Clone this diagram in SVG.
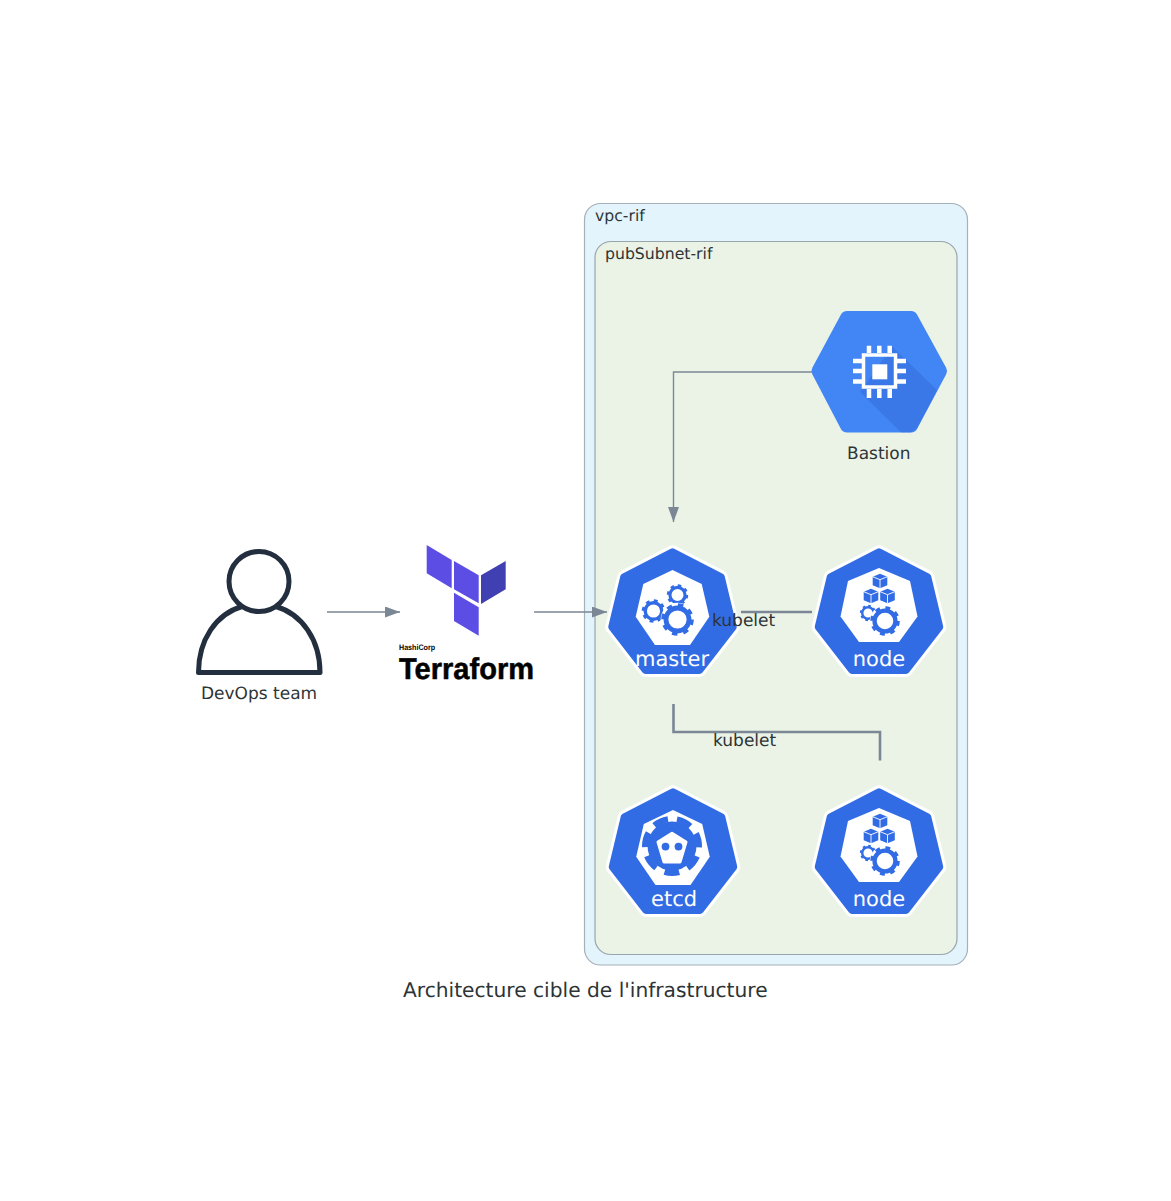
<svg xmlns="http://www.w3.org/2000/svg" xmlns:xlink="http://www.w3.org/1999/xlink" width="1171" height="1201" viewBox="0 0 1171 1201">
<style>
text{font-family:"DejaVu Sans",sans-serif;fill:#2d3436;text-rendering:geometricPrecision}
.lbl{font-size:15.700px}
.nl{font-size:17px}
.k{font-size:21px;fill:#fff;text-anchor:middle}
.thin{fill:none;stroke:#7b8794;stroke-width:1.400}
.thick{fill:none;stroke:#7b8794;stroke-width:2.600}
.blue{fill:#326ce5}
.wh{fill:#fff}
</style>
<defs>
<marker id="arrow" markerUnits="userSpaceOnUse" markerWidth="16" markerHeight="12" refX="15" refY="5.500" orient="auto"><path d="M0 0L15 5.500L0 11Z" fill="#7b8794"/></marker>
<g id="hept">
<polygon points="0,-60 48.500,-35 60.500,15 27,58.200 -27,58.200 -60.500,15 -48.500,-35" fill="#fff" stroke="#fff" stroke-width="13.500" stroke-linejoin="round"/>
<polygon points="0,-60 48.500,-35 60.500,15 27,58.200 -27,58.200 -60.500,15 -48.500,-35" fill="#326ce5" stroke="#326ce5" stroke-width="7.500" stroke-linejoin="round"/>
</g>
<g id="gear">
<circle r="10.500" fill="#fff"/>
<circle r="7.200" fill="none" stroke="#326ce5" stroke-width="3"/>
<circle r="9" fill="none" stroke="#326ce5" stroke-width="2.400" stroke-dasharray="3.300 3.770"/>
</g>
<g id="cube">
<polygon points="0,-7.300 7.300,-4.300 7.300,4.300 0,7.300 -7.300,4.300 -7.300,-4.300" fill="#326ce5"/>
<path d="M-7.300,-4.300L0,-1.300L7.300,-4.300M0,-1.300V7.300" fill="none" stroke="#fff" stroke-width=".9"/>
</g>
<g id="nodeicon">
<use xlink:href="#hept" href="#hept"/>
<polygon class="wh" points="0,-44 31,-31 38.500,4.500 20,30 -20,30 -38.500,4.500 -31,-31"/>
<use xlink:href="#cube" href="#cube" x="1" y="-31"/>
<use xlink:href="#cube" href="#cube" x="-8" y="-16"/>
<use xlink:href="#cube" href="#cube" x="8.500" y="-16"/>
<use xlink:href="#gear" href="#gear" transform="translate(-11 1) scale(.8)"/>
<use xlink:href="#gear" href="#gear" transform="translate(6 9) scale(1.450)"/>
</g>
</defs>
<rect width="1171" height="1201" fill="#fff"/>

<g id="vpc-rif">
<rect x="584.500" y="203.500" width="383" height="761.500" rx="16" fill="#e3f4fc" stroke="#a6b0b8" stroke-width="1.200"/>
<text class="lbl" x="595" y="221">vpc-rif</text>
</g>
<g id="pubSubnet-rif">
<rect x="595" y="241.500" width="362" height="713" rx="16" fill="#ebf3e7" stroke="#98a5ab" stroke-width="1.200"/>
<text class="lbl" x="605" y="259">pubSubnet-rif</text>
</g>

<g id="devops">
<circle cx="259" cy="581.500" r="30" fill="none" stroke="#232f3e" stroke-width="5"/>
<path d="M242 606.500C216 614 198.500 640 198.500 672.500H320C320 640 302 614 276 606.500" fill="none" stroke="#232f3e" stroke-width="5" stroke-linejoin="round"/>
<text class="nl" x="201" y="699">DevOps team</text>
</g>

<g id="terraform">
<polygon points="426.700,545 451.700,560 451.700,588.300 426.700,573.300" fill="#5c4ee5"/>
<polygon points="454,561 478.700,575.300 478.700,603.300 454,589.300" fill="#5c4ee5"/>
<polygon points="481,575.300 505.700,561 505.700,589.300 481,604" fill="#4040b2"/>
<polygon points="454,592.700 478.700,607.300 478.700,635.700 454,621" fill="#5c4ee5"/>
<text x="399" y="650" font-size="8" font-weight="700" textLength="36" lengthAdjust="spacingAndGlyphs" style="font-family:'Liberation Sans Narrow','Liberation Sans',sans-serif;fill:#000">HashiCorp</text>
<text x="399" y="679" font-size="30" font-weight="700" textLength="135" lengthAdjust="spacingAndGlyphs" style="font-family:'Liberation Sans Narrow','Liberation Sans',sans-serif;fill:#000;stroke:#000;stroke-width:.5">Terraform</text>
</g>

<g id="bastion">
<polygon points="818.500,371 847,318 911,318 940,371 911,425.500 847,425.500" fill="#4285f4" stroke="#4285f4" stroke-width="14" stroke-linejoin="round"/>
<polygon points="892,346.500 937,390 917,428 911,432.300 901,432.300 860,392" fill="#3b78e7"/>
<rect x="863.500" y="355" width="32" height="32" fill="none" stroke="#fff" stroke-width="3.500"/>
<rect x="872.300" y="364.300" width="15" height="15" fill="#fff"/>
<path d="M869 345.700V353M879.300 345.700V353M889.700 345.700V353M869 389V398M879.300 389V398M889.700 389V398M853 361H862M853 371H862M853 381.500H862M897 361H906M897 371H906M897 381.500H906" stroke="#fff" stroke-width="4.500" fill="none"/>
<text class="nl" x="847" y="459">Bastion</text>
</g>

<g id="master" transform="translate(672.500 612)">
<use xlink:href="#hept" href="#hept"/>
<polygon class="wh" points="0,-42 29.200,-28 36.800,4.700 17.500,33 -17.500,33 -36.800,4.700 -29.200,-28"/>
<use xlink:href="#gear" href="#gear" transform="translate(-19 -1) scale(1.150)"/>
<use xlink:href="#gear" href="#gear" transform="translate(5 -17) scale(1.050)"/>
<use xlink:href="#gear" href="#gear" transform="translate(5 7.500) scale(1.600)"/>
<text class="k" x="-.5" y="54">master</text>
</g>

<g id="node1" transform="translate(879 612)">
<use xlink:href="#nodeicon" href="#nodeicon"/>
<text class="k" x="0" y="54">node</text>
</g>

<g id="etcd" transform="translate(673 852)">
<use xlink:href="#hept" href="#hept"/>
<polygon class="wh" points="0,-42 29.200,-28 36.800,4.700 17.500,33 -17.500,33 -36.800,4.700 -29.200,-28"/>
<circle cx="-1" cy="-6" r="24.500" class="blue"/>
<circle cx="-1" cy="-6" r="27" fill="none" stroke="#326ce5" stroke-width="6" stroke-dasharray="15 9.230" stroke-dashoffset="-34.900"/>
<polygon class="wh" points="-1,-18.700 13,-10 7,10 -9,10 -15,-10" stroke="#fff" stroke-width="3" stroke-linejoin="round"/>
<circle cx="-7.500" cy="-5.400" r="3.900" class="blue"/>
<circle cx="5.500" cy="-5.400" r="3.900" class="blue"/>
<text class="k" x="1" y="54">etcd</text>
</g>

<g id="node2" transform="translate(879 852)">
<use xlink:href="#nodeicon" href="#nodeicon"/>
<text class="k" x="0" y="54">node</text>
</g>

<g id="connectors">
<path class="thin" d="M327 612H400" marker-end="url(#arrow)"/>
<path class="thin" d="M534 612H607" marker-end="url(#arrow)"/>
<path class="thin" d="M812 372H673.500V522" marker-end="url(#arrow)"/>
<path class="thick" d="M741 612H812"/>
<path class="thick" d="M673.500 704V732H880V760.500"/>
<text class="nl" x="712" y="626">kubelet</text>
<text class="nl" x="713" y="746">kubelet</text>
</g>

<text id="title" x="403" y="997" font-size="20.200">Architecture cible de l'infrastructure</text>
</svg>
